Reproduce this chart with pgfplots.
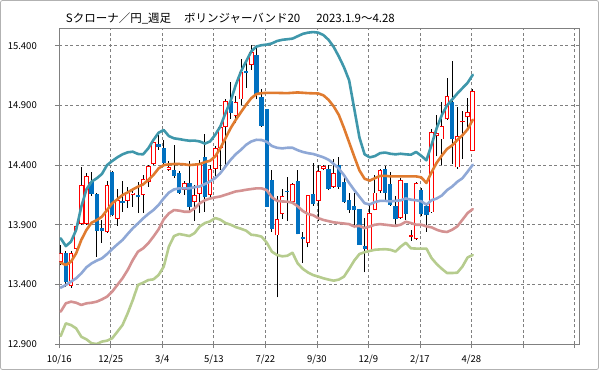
\documentclass[border=0pt]{standalone}
\usepackage{fontspec}
\newfontfamily\jp{Noto Sans CJK JP}
\usepackage{pgfplots}
\usepackage{pgfplotstable}
\pgfplotsset{compat=1.18}
\definecolor{bandA}{HTML}{3F97AB}
\definecolor{bandB}{HTML}{E07B2F}
\definecolor{bandC}{HTML}{8FA8D6}
\definecolor{bandD}{HTML}{D49292}
\definecolor{bandE}{HTML}{B6CC8E}
\definecolor{dnblue}{HTML}{0070C0}
\definecolor{gridgray}{HTML}{808080}
\pgfplotsset{
 band/.style={line width=2.6bp, line join=round, line cap=round, mark=none},
 ebar/.style 2 args={draw=none, mark=none, error bars/.cd, y dir=plus, y explicit,
   error mark=none, error bar style={draw=#1, line width=#2, line cap=butt}}
}
% weekly candles: i open high low close
\pgfplotstableread{
i o h l c
0 13.59 13.73 13.56 13.66
1 13.66 13.68 13.38 13.42
2 13.39 13.68 13.37 13.66
3 13.70 13.91 13.69 13.89
4 13.91 14.38 13.90 14.23
5 13.91 14.33 13.90 14.31
6 14.26 14.34 14.14 14.16
7 14.16 14.17 13.63 13.85
8 13.87 13.94 13.75 13.85
9 13.84 14.27 13.83 14.23
10 14.34 14.35 13.97 13.98
11 13.95 14.20 13.89 14.11
12 14.10 14.27 14.01 14.08
13 14.10 14.22 14.04 14.17
14 14.15 14.21 14.05 14.17
15 14.15 14.26 14.00 14.13
16 14.15 14.32 14.00 14.28
17 14.26 14.40 14.22 14.39
18 14.41 14.60 14.40 14.59
19 14.58 14.65 14.53 14.55
20 14.54 14.61 14.39 14.42
21 14.36 14.43 14.35 14.38
22 14.36 14.57 14.29 14.31
23 14.33 14.35 14.16 14.17
24 14.19 14.27 14.15 14.25
25 14.25 14.43 14.00 14.05
26 14.09 14.23 13.93 14.15
27 14.16 14.44 14.00 14.42
28 14.47 14.66 14.01 14.13
29 14.15 14.40 14.13 14.37
30 14.37 14.56 14.28 14.54
31 14.54 14.74 14.36 14.72
32 14.72 14.95 14.38 14.94
33 14.94 15.10 14.79 14.84
34 14.81 14.98 14.75 14.93
35 14.95 15.29 14.90 15.18
36 15.19 15.28 15.05 15.17
37 15.24 15.41 15.20 15.345
38 15.32 15.40 14.95 15.00
39 14.97 15.04 14.72 14.73
40 14.87 14.87 14.05 14.05
41 14.275 14.36 13.84 13.86
42 13.81 14.14 13.29 13.95
43 13.99 14.20 13.95 14.14
44 14.185 14.30 13.93 14.175
45 14.09 14.25 14.07 14.24
46 14.27 14.36 13.82 13.82
47 13.80 13.84 13.58 13.78
48 13.75 14.15 13.71 14.15
49 14.16 14.42 14.06 14.07
50 14.10 14.40 13.93 14.35
51 14.37 14.40 14.36 14.39
52 14.37 14.40 14.19 14.20
53 14.22 14.45 14.21 14.33
54 14.40 14.47 14.20 14.22
55 14.26 14.31 14.08 14.09
56 14.11 14.17 14.00 14.02
57 14.06 14.17 13.87 14.02
58 14.03 14.03 13.73 13.73
59 13.72 13.96 13.50 13.70
60 13.675 14.07 13.67 13.995
61 14.025 14.32 14.02 14.17
62 14.18 14.37 14.17 14.36
63 14.37 14.39 14.11 14.17
64 14.24 14.34 14.06 14.065
65 14.06 14.14 13.91 13.95
66 13.953 14.29 13.95 14.274
67 14.246 14.25 13.94 13.99
68 13.80 13.855 13.766 13.815
69 13.777 14.26 13.77 14.246
70 14.19 14.205 13.97 13.99
71 14.06 14.08 13.84 13.98
72 14.003 14.70 14.00 14.674
73 14.646 14.816 14.473 14.668
74 14.615 14.93 14.40 14.727
75 14.783 15.13 14.78 14.978
76 14.931 15.27 14.41 14.615
77 14.38 14.889 14.37 14.64
78 14.76 14.85 14.45 14.77
79 14.80 14.96 14.72 14.843
80 14.518 15.034 14.518 15.02
}\candles
\begin{document}
\begin{tikzpicture}
\useasboundingbox (0,0) rectangle (599bp,370bp);
\draw[gray!60, line width=0.8bp, rounded corners=2bp] (0.5bp,0.5bp) rectangle (598.5bp,369.5bp);
\node[anchor=west, inner sep=0pt, font=\jp\fontsize{11.5bp}{12bp}\selectfont] at (65.7bp,352bp)
 {Sクローナ／円\_週足\hspace{13bp}ボリンジャーバンド20\hspace{16bp}2023.1.9〜4.28};
\begin{axis}[
 at={(59.3bp,26bp)}, anchor=south west, scale only axis,
 width=520.1bp, height=315.5bp,
 xmin=-0.27, xmax=100.7, ymin=12.9, ymax=15.545,
 xtick={-0.27,9.73,19.73,29.73,39.73,49.73,59.73,69.73,79.73,89.73,99.73},
 xticklabels={10/16,12/25,3/4,5/13,7/22,9/30,12/9,2/17,4/28,{},{}},
 ytick={12.9,13.4,13.9,14.4,14.9,15.4},
 /pgf/number format/.cd, fixed, fixed zerofill, precision=3, assume math mode=true,
 /pgfplots/.cd,
 grid=major,
 major grid style={gridgray, line width=0.7bp, dash pattern=on 3bp off 2.5bp},
 axis line style={gridgray, line width=0.8bp},
 tick align=outside, tick pos=left, major tick length=4bp,
 tick style={gridgray, line width=0.7bp},
 ticklabel style={font=\jp\fontsize{9.5bp}{10bp}\selectfont, text=black},
 yticklabel style={xshift=-15bp},
 xticklabel style={yshift=-3bp},
 clip=true,
]
% wicks
\addplot[ebar={black}{0.9bp}] table[x=i, y=l, y error expr=\thisrow{h}-\thisrow{l}] {\candles};
% rising bodies: red outline, white inside
\addplot[ebar={red}{4.6bp}] table[x=i, y=o, y error expr={max(\thisrow{c}-\thisrow{o},0)}] {\candles};
\addplot[ebar={white}{2.8bp}] table[x=i, y expr=\thisrow{o}+0.0075, y error expr={max(\thisrow{c}-\thisrow{o}-0.015,0)}] {\candles};
% falling bodies: solid blue
\addplot[ebar={dnblue}{4.2bp}] table[x=i, y=c, y error expr={max(\thisrow{o}-\thisrow{c},0)}] {\candles};
% bands
\addplot[band, bandE] coordinates {(0,12.967)(1,13.073)(2,13.059)(3,13.031)(4,12.961)(5,12.939)(6,12.906)(7,12.90)(8,12.92)(9,12.928)(10,12.948)(11,13.003)(12,13.059)(13,13.157)(14,13.269)(15,13.395)(16,13.414)(17,13.436)(18,13.442)(19,13.478)(20,13.548)(21,13.716)(22,13.805)(23,13.822)(24,13.814)(25,13.805)(26,13.83)(27,13.886)(28,13.914)(29,13.928)(30,13.956)(31,13.942)(32,13.914)(33,13.90)(34,13.88)(35,13.866)(36,13.85)(37,13.816)(38,13.811)(39,13.80)(40,13.75)(41,13.674)(42,13.646)(43,13.635)(44,13.64)(45,13.665)(46,13.576)(47,13.53)(48,13.50)(49,13.478)(50,13.465)(51,13.451)(52,13.44)(53,13.431)(54,13.44)(55,13.465)(56,13.53)(57,13.60)(58,13.654)(59,13.67)(60,13.68)(61,13.69)(62,13.693)(63,13.695)(64,13.69)(65,13.675)(66,13.716)(67,13.749)(68,13.702)(69,13.70)(70,13.70)(71,13.70)(72,13.62)(73,13.57)(74,13.53)(75,13.495)(76,13.495)(77,13.498)(78,13.55)(79,13.626)(80,13.646)};
\addplot[band, bandD] coordinates {(0,13.171)(1,13.241)(2,13.255)(3,13.246)(4,13.227)(5,13.241)(6,13.246)(7,13.255)(8,13.274)(9,13.297)(10,13.339)(11,13.395)(12,13.451)(13,13.52)(14,13.604)(15,13.674)(16,13.702)(17,13.744)(18,13.80)(19,13.861)(20,13.945)(21,13.995)(22,14.023)(23,14.018)(24,14.009)(25,14.009)(26,14.037)(27,14.08)(28,14.105)(29,14.12)(30,14.129)(31,14.137)(32,14.151)(33,14.165)(34,14.179)(35,14.185)(36,14.193)(37,14.199)(38,14.205)(39,14.205)(40,14.19)(41,14.13)(42,14.10)(43,14.095)(44,14.093)(45,14.085)(46,14.055)(47,14.015)(48,13.99)(49,13.98)(50,13.955)(51,13.94)(52,13.93)(53,13.92)(54,13.915)(55,13.91)(56,13.905)(57,13.885)(58,13.89)(59,13.872)(60,13.885)(61,13.90)(62,13.905)(63,13.90)(64,13.895)(65,13.89)(66,13.90)(67,13.925)(68,13.914)(69,13.90)(70,13.90)(71,13.886)(72,13.878)(73,13.858)(74,13.844)(75,13.839)(76,13.858)(77,13.886)(78,13.942)(79,13.998)(80,14.031)};
\addplot[band, bandC] coordinates {(0,13.372)(1,13.395)(2,13.423)(3,13.451)(4,13.492)(5,13.543)(6,13.576)(7,13.599)(8,13.618)(9,13.654)(10,13.696)(11,13.735)(12,13.772)(13,13.822)(14,13.87)(15,13.911)(16,13.953)(17,13.99)(18,14.023)(19,14.065)(20,14.121)(21,14.169)(22,14.196)(23,14.205)(24,14.205)(25,14.205)(26,14.215)(27,14.221)(28,14.241)(29,14.263)(30,14.291)(31,14.333)(32,14.389)(33,14.445)(34,14.492)(35,14.528)(36,14.57)(37,14.598)(38,14.612)(39,14.61)(40,14.595)(41,14.56)(42,14.545)(43,14.54)(44,14.545)(45,14.545)(46,14.525)(47,14.51)(48,14.50)(49,14.493)(50,14.48)(51,14.465)(52,14.445)(53,14.41)(54,14.37)(55,14.315)(56,14.25)(57,14.19)(58,14.135)(59,14.08)(60,14.07)(61,14.09)(62,14.10)(63,14.10)(64,14.095)(65,14.10)(66,14.105)(67,14.12)(68,14.11)(69,14.105)(70,14.096)(71,14.068)(72,14.105)(73,14.12)(74,14.145)(75,14.19)(76,14.22)(77,14.26)(78,14.29)(79,14.345)(80,14.403)};
\addplot[band, bandB] coordinates {(0,13.582)(1,13.562)(2,13.59)(3,13.66)(4,13.772)(5,13.856)(6,13.917)(7,13.939)(8,13.967)(9,14.023)(10,14.079)(11,14.113)(12,14.149)(13,14.171)(14,14.196)(15,14.219)(16,14.238)(17,14.275)(18,14.317)(19,14.372)(20,14.40)(21,14.406)(22,14.409)(23,14.409)(24,14.406)(25,14.40)(26,14.404)(27,14.408)(28,14.425)(29,14.436)(30,14.473)(31,14.542)(32,14.626)(33,14.71)(34,14.78)(35,14.844)(36,14.906)(37,14.961)(38,14.995)(39,15.003)(40,15.005)(42,15.005)(44,15.003)(46,15.009)(48,15.003)(50,15.0)(51,14.985)(52,14.947)(53,14.892)(54,14.82)(55,14.71)(56,14.59)(57,14.47)(58,14.355)(59,14.285)(60,14.27)(61,14.29)(62,14.31)(63,14.31)(64,14.305)(65,14.305)(66,14.305)(67,14.305)(68,14.305)(69,14.305)(70,14.297)(71,14.25)(72,14.34)(73,14.42)(74,14.48)(75,14.535)(76,14.565)(77,14.61)(78,14.65)(79,14.70)(80,14.78)};
\addplot[band, bandA] coordinates {(0,13.786)(1,13.721)(2,13.758)(3,13.856)(4,14.051)(5,14.196)(6,14.261)(7,14.289)(8,14.325)(9,14.40)(10,14.434)(11,14.465)(12,14.49)(13,14.507)(14,14.512)(15,14.493)(16,14.49)(17,14.54)(18,14.61)(19,14.671)(20,14.694)(21,14.643)(22,14.624)(23,14.618)(24,14.61)(25,14.604)(26,14.605)(27,14.598)(28,14.58)(29,14.598)(30,14.654)(31,14.724)(32,14.836)(33,14.939)(34,15.073)(35,15.185)(36,15.269)(37,15.353)(38,15.394)(39,15.405)(40,15.41)(41,15.42)(42,15.44)(43,15.45)(44,15.455)(45,15.46)(46,15.48)(47,15.50)(48,15.51)(49,15.515)(50,15.51)(51,15.49)(52,15.45)(53,15.39)(54,15.31)(55,15.22)(56,15.11)(57,14.87)(58,14.63)(59,14.49)(60,14.465)(61,14.475)(62,14.50)(63,14.505)(64,14.495)(65,14.49)(66,14.495)(67,14.49)(68,14.487)(69,14.51)(70,14.478)(71,14.44)(72,14.57)(73,14.71)(74,14.82)(75,14.90)(76,14.95)(77,15.00)(78,15.045)(79,15.09)(80,15.157)};
\end{axis}
\end{tikzpicture}
\end{document}
